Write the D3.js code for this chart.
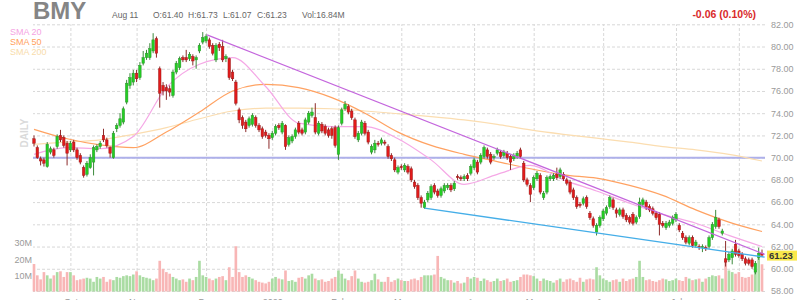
<!DOCTYPE html>
<html>
<head>
<meta charset="utf-8">
<script src="https://cdn.jsdelivr.net/npm/d3@7"></script>
<style>
  body { margin: 0; background: #fff; }
  svg { display: block; font-family: Arial, "Liberation Sans", sans-serif; }
</style>
</head>
<body>
<div id="chart"></div>
<script>
// daily candles, Sep 2019 - Aug 11 2020
var opens = [
  71.7, 70.9, 69.9, 69.8, 69.2, 70.5, 70.7, 71.0, 72.0, 71.8,
  71.3, 70.7, 71.4, 70.7, 70.2, 69.1, 68.5, 69.1, 69.6, 70.7,
  71.0, 72.0, 71.6, 70.9, 70.0, 72.6, 72.9, 73.2, 75.0, 76.5,
  76.8, 77.6, 77.2, 78.5, 79.0, 79.0, 79.6, 80.7, 78.0, 76.5,
  76.3, 76.2, 75.6, 77.7, 78.1, 79.0, 79.0, 78.9, 79.1, 78.8,
  79.6, 80.4, 80.5, 80.6, 80.1, 78.8, 80.2, 80.0, 78.9, 78.9,
  77.7, 76.8, 74.3, 73.6, 73.2, 72.9, 73.0, 73.6, 72.9, 72.6,
  72.3, 72.0, 71.8, 72.2, 72.9, 72.3, 72.9, 71.2, 71.5, 71.9,
  73.1, 72.5, 72.3, 73.2, 73.8, 73.6, 72.2, 73.0, 72.8, 72.5,
  72.6, 72.7, 70.3, 73.1, 74.4, 74.6, 74.2, 73.4, 71.6, 72.2,
  73.1, 72.3, 70.5, 70.7, 71.3, 71.3, 71.4, 71.0, 70.2, 69.8,
  68.7, 69.2, 68.9, 69.2, 69.0, 67.8, 67.5, 66.4, 65.5, 66.2,
  66.4, 67.5, 67.0, 66.6, 67.0, 67.3, 67.5, 67.2, 68.3, 68.2,
  68.1, 68.4, 68.6, 69.1, 69.6, 69.6, 70.1, 70.7, 70.3, 70.0,
  70.4, 70.5, 70.2, 70.4, 70.1, 69.9, 70.1, 70.7, 69.5, 68.0,
  67.5, 67.3, 68.1, 68.4, 66.4, 66.9, 68.1, 68.1, 68.5, 68.3,
  68.5, 68.0, 67.8, 67.1, 66.4, 65.8, 65.9, 66.4, 65.0, 64.5,
  63.3, 63.9, 64.5, 65.0, 65.6, 66.2, 65.3, 64.9, 65.3, 64.8,
  64.6, 64.9, 64.2, 64.7, 65.8, 66.0, 65.6, 65.4, 65.0, 64.9,
  64.1, 63.7, 63.9, 64.1, 64.4, 63.9, 63.2, 62.8, 62.3, 62.8,
  62.1, 62.0, 61.9, 61.9, 62.0, 62.8, 63.8, 64.4, 63.2, 60.9,
  60.8, 61.0, 62.2, 61.6, 61.3, 60.9, 60.8, 60.8, 59.7, 61.0, 61.40
];
var closes = [
  71.3, 70.0, 69.7, 69.5, 71.2, 70.8, 70.2, 71.9, 71.6, 71.1,
  70.4, 71.3, 70.7, 70.0, 69.6, 68.4, 69.5, 70.0, 70.9, 71.0,
  71.3, 71.6, 71.1, 70.4, 72.2, 72.9, 73.5, 74.4, 76.7, 77.2,
  77.6, 77.1, 78.3, 79.0, 79.4, 79.8, 80.6, 79.4, 75.8, 76.0,
  76.0, 75.9, 77.7, 78.5, 78.9, 78.8, 78.8, 79.3, 78.7, 79.0,
  80.1, 80.8, 80.9, 80.0, 79.4, 80.1, 79.9, 78.8, 79.1, 77.2,
  77.1, 74.9, 73.4, 72.9, 72.6, 73.5, 73.8, 72.9, 72.5, 71.9,
  72.0, 71.7, 72.2, 72.8, 72.7, 73.1, 71.0, 71.8, 71.9, 72.5,
  72.3, 72.2, 73.4, 74.0, 74.1, 72.3, 73.1, 72.4, 72.2, 72.0,
  72.0, 71.1, 72.7, 74.3, 74.8, 74.1, 73.6, 71.9, 72.2, 73.2,
  72.2, 71.4, 71.0, 71.3, 71.2, 71.6, 71.3, 70.1, 69.9, 68.9,
  69.1, 69.1, 69.3, 68.7, 68.0, 67.4, 66.4, 65.9, 66.0, 66.8,
  67.4, 66.9, 66.6, 67.2, 67.5, 67.5, 67.1, 67.7, 68.2, 68.1,
  68.3, 68.1, 69.2, 69.8, 68.7, 70.2, 70.9, 70.1, 69.6, 70.1,
  70.7, 70.1, 70.5, 70.0, 69.6, 70.2, 70.4, 70.1, 68.0, 67.6,
  66.7, 68.2, 68.6, 66.9, 66.8, 68.2, 68.3, 68.4, 68.2, 68.9,
  68.1, 67.7, 66.9, 66.4, 65.6, 65.7, 66.3, 65.6, 64.6, 63.9,
  63.9, 64.6, 65.2, 65.5, 66.4, 65.5, 65.0, 65.3, 64.7, 64.4,
  64.2, 64.1, 64.6, 66.0, 66.2, 65.5, 65.3, 65.0, 64.6, 64.0,
  63.9, 64.1, 64.2, 64.6, 64.9, 63.5, 62.8, 62.4, 62.8, 62.1,
  62.4, 61.9, 62.0, 61.8, 62.8, 64.0, 64.6, 63.8, 63.4, 60.6,
  61.3, 61.6, 61.3, 61.2, 60.9, 60.5, 60.5, 60.2, 60.5, 61.4, 61.23
];
var highs = [
  72.0, 71.1, 70.1, 70.0, 71.4, 71.0, 70.9, 72.1, 72.5, 72.0,
  71.5, 71.5, 71.6, 70.9, 70.4, 69.3, 69.7, 70.3, 71.1, 71.2,
  71.5, 72.6, 71.8, 71.0, 72.4, 73.1, 74.0, 74.6, 77.0, 77.6,
  77.9, 77.9, 78.6, 79.6, 79.7, 80.3, 81.2, 80.9, 78.2, 76.8,
  76.6, 76.5, 77.9, 78.7, 79.1, 79.2, 79.7, 79.5, 79.3, 79.2,
  80.3, 81.3, 81.1, 80.8, 80.3, 80.3, 80.4, 80.6, 79.3, 79.0,
  77.9, 77.0, 74.5, 73.8, 73.4, 73.7, 74.0, 73.8, 73.1, 72.8,
  72.5, 72.2, 72.4, 73.0, 73.1, 73.3, 73.0, 72.0, 72.1, 72.7,
  73.3, 72.7, 73.6, 74.2, 74.5, 74.9, 73.3, 73.2, 73.0, 72.7,
  72.8, 72.9, 72.9, 74.5, 75.1, 74.8, 74.4, 73.6, 72.4, 73.4,
  73.3, 72.5, 71.2, 71.6, 71.5, 71.8, 71.6, 71.2, 70.4, 70.0,
  69.3, 69.4, 69.5, 69.4, 69.2, 68.0, 67.7, 66.6, 66.2, 67.0,
  67.6, 67.7, 67.2, 67.4, 67.7, 67.7, 67.7, 67.9, 68.5, 68.4,
  68.5, 68.6, 69.4, 70.0, 69.8, 70.4, 71.1, 70.9, 70.5, 70.3,
  70.9, 70.7, 70.7, 70.6, 70.3, 70.4, 70.6, 70.9, 69.7, 68.2,
  67.7, 68.4, 68.8, 68.6, 67.0, 68.4, 68.5, 68.6, 69.1, 69.1,
  68.7, 68.2, 68.0, 67.3, 66.6, 66.0, 66.5, 66.6, 65.2, 64.7,
  64.1, 64.8, 65.4, 65.7, 66.6, 66.4, 65.5, 65.5, 65.5, 65.0,
  64.8, 65.1, 64.8, 66.4, 66.4, 66.2, 65.8, 65.6, 65.2, 65.1,
  64.3, 64.3, 64.4, 64.8, 65.1, 64.1, 63.4, 63.0, 63.0, 63.0,
  62.6, 62.2, 62.2, 62.1, 63.0, 64.2, 65.3, 64.6, 63.6, 62.5,
  61.5, 61.8, 62.6, 61.8, 61.5, 61.1, 61.0, 61.0, 60.7, 61.9, 61.73
];
var lows = [
  71.0, 69.9, 69.3, 69.2, 69.1, 70.3, 70.0, 70.8, 71.4, 70.9,
  69.3, 70.5, 70.5, 69.8, 69.4, 68.2, 68.3, 69.0, 68.4, 70.5,
  70.8, 71.4, 70.9, 70.0, 69.9, 72.3, 72.7, 73.0, 74.8, 76.2,
  76.5, 76.8, 77.0, 78.3, 78.8, 78.8, 79.4, 79.0, 74.5, 75.6,
  75.2, 75.5, 75.4, 77.5, 77.9, 78.6, 78.6, 78.7, 78.3, 78.0,
  79.4, 80.2, 80.3, 79.8, 79.2, 78.6, 79.6, 78.6, 78.6, 77.0,
  76.9, 74.7, 73.1, 72.6, 72.3, 72.7, 72.8, 72.7, 72.3, 71.7,
  71.8, 70.8, 71.6, 72.0, 72.5, 72.1, 70.7, 71.0, 71.3, 71.7,
  72.1, 72.0, 72.1, 73.0, 73.6, 72.1, 72.0, 72.2, 72.0, 71.8,
  71.7, 70.9, 69.8, 72.9, 74.2, 73.9, 73.4, 71.7, 71.4, 72.0,
  72.0, 71.2, 70.3, 70.4, 71.0, 71.1, 71.1, 69.9, 69.7, 68.7,
  68.5, 68.9, 68.7, 68.5, 67.8, 67.2, 66.2, 65.5, 65.4, 66.0,
  66.2, 66.7, 66.4, 66.4, 66.8, 67.1, 66.9, 67.0, 68.0, 67.9,
  67.9, 67.9, 68.4, 68.9, 68.5, 69.4, 69.9, 69.9, 69.4, 69.8,
  70.2, 69.9, 70.0, 69.8, 68.9, 69.7, 69.9, 69.9, 67.8, 67.4,
  66.0, 67.1, 67.9, 66.7, 66.2, 66.7, 67.9, 67.9, 68.0, 68.1,
  67.9, 67.5, 66.7, 66.2, 65.4, 65.5, 65.7, 65.4, 64.4, 63.7,
  63.0, 63.7, 64.3, 64.8, 65.4, 65.3, 64.6, 64.7, 64.5, 64.2,
  64.0, 63.9, 64.0, 64.5, 65.6, 65.3, 65.1, 64.8, 64.4, 63.0,
  63.7, 63.5, 63.7, 63.9, 64.2, 63.3, 62.6, 62.2, 62.1, 61.9,
  61.9, 61.7, 61.5, 61.6, 61.8, 62.6, 63.6, 63.6, 63.0, 60.2,
  60.6, 60.4, 61.1, 61.0, 60.7, 60.3, 60.3, 60.0, 59.5, 60.8, 61.07
];
// volume in millions
var volumes = [
  17, 10, 7.5, 12, 10, 8, 10, 12, 12.5, 9,
  12, 12, 10, 7, 7.5, 8, 8.5, 8, 6, 9,
  8, 9, 6, 7.5, 7, 9, 8.5, 9.5, 10, 9.5,
  10.5, 12.5, 10, 9, 8.5, 8, 7, 8, 19, 14,
  12, 11, 9, 8, 7, 7.5, 6, 8, 7, 9,
  19, 10, 9, 8, 7, 8, 9, 9.5, 7, 15,
  9, 28, 12, 9, 10, 9, 8, 7, 6, 5.5,
  5, 6, 8, 9, 8, 7.5, 13, 6.5, 7, 6,
  8.5, 9, 8, 10, 11, 8, 7, 7.5, 6, 6.5,
  8, 9, 13, 11, 8, 7, 9.5, 13, 8, 6,
  5.5, 6, 7, 11, 7.5, 6, 6, 9, 6, 7,
  8, 7, 6.5, 6.5, 7.5, 8, 7, 9, 10, 10,
  10, 10.5, 22, 9, 8, 7, 7, 5.5, 6.5, 5,
  5.5, 9, 8, 9, 8.5, 6.5, 8, 7, 6, 6.5,
  8, 6.5, 7, 8, 6, 6.5, 7, 9, 10.5, 10.5,
  10, 9.5, 8, 6.5, 8, 7, 6.5, 5.5, 7, 8,
  6, 7.5, 8, 7, 6, 8.5, 6, 7.5, 8, 7.5,
  15, 10, 8, 7, 6, 7, 7.5, 6, 8, 6.5,
  7.5, 8, 9, 19, 9, 7, 7.5, 6.5, 6, 7,
  8, 7.5, 6.5, 7, 8, 7, 6.5, 9, 8, 7,
  7.5, 8, 6, 8, 9, 10, 9.5, 10, 8, 19,
  13, 12, 11, 12, 9, 8.5, 9, 10.5, 13, 22, 16.84
];

// moving averages sampled every 10 bars
var smaIdx = [0, 10, 20, 30, 40, 50, 60, 70, 80, 90, 100, 110, 120, 130, 140, 150, 160, 170, 180, 190, 200, 210, 220];
var sma20 = [70.3, 70.9, 70.8, 71.9, 76.3, 78.4, 79.0, 76.4, 73.1, 72.8, 72.8, 71.7, 69.8, 67.6, 68.5, 69.3, 68.0, 67.0, 65.9, 64.9, 64.1, 63.0, 62.0];
var sma50 = [72.55, 71.7, 71.15, 70.9, 72.3, 74.1, 76.0, 76.6, 76.3, 75.4, 74.0, 72.3, 71.1, 70.3, 69.65, 69.0, 68.45, 68.15, 67.5, 66.6, 65.3, 64.2, 63.35];
var sma200 = [71.2, 71.4, 71.6, 72.1, 72.7, 73.5, 74.2, 74.45, 74.45, 74.4, 74.2, 73.95, 73.7, 73.4, 73.0, 72.5, 72.1, 71.75, 71.4, 71.0, 70.7, 70.3, 69.7];

// trend lines drawn on the chart: [bar index, price]
var resistLine = [[52.3, 81.05], [220.8, 61.3]];
var supportLine = [[118, 65.45], [220.8, 61.05]];
var levelLine = 70;

var monthLabels = ["Oct", "Nov", "Dec", "2020", "Feb", "Mar", "Apr", "May", "Jun", "Jul", "Aug"];
var monthIdx = [11, 31, 52, 72, 92, 111, 133, 151, 172, 194, 213];
var priceTicks = [58, 60, 62, 64, 66, 68, 70, 72, 74, 76, 78, 80, 82];
var volTicks = [10, 20, 30];

var svgWidth = 800;
var svgHeight = 300;
var plotLeft = 33, plotRight = 765, plotTop = 24.3, plotBottom = 291;

var svg = d3.select("#chart").append("svg")
  .attr("width", svgWidth)
  .attr("height", svgHeight);

var n = closes.length;
var x = d3.scaleLinear().domain([0, n - 1]).range([34, 762]);
var step = (762 - 34) / (n - 1);
var y = d3.scaleLinear().domain([58, 82]).range([plotBottom, plotTop]);
var yVol = d3.scaleLinear().domain([0, 30]).range([291.5, 243]);

// price grid + right labels
var yAxis = svg.append("g")
  .attr("transform", `translate(${plotRight},0)`)
  .call(d3.axisRight(y).tickValues(priceTicks).tickFormat(d3.format(".2f"))
    .tickSize(-(plotRight - plotLeft)).tickPadding(6));
yAxis.select(".domain").remove();
yAxis.selectAll("line").attr("stroke", "#d8d8d8").attr("stroke-dasharray", "3,2");
yAxis.selectAll("text").attr("fill", "#9a9a9a").style("font-size", "9px")
  .style("font-family", "Arial, 'Liberation Sans', sans-serif");

// month grid + bottom labels (mostly below the window, as in the original)
var xAxis = svg.append("g")
  .attr("transform", `translate(0,${plotBottom})`)
  .call(d3.axisBottom(x).tickValues(monthIdx).tickFormat((d, i) => monthLabels[i])
    .tickSize(-(plotBottom - plotTop)).tickPadding(8));
xAxis.select(".domain").remove();
xAxis.selectAll("line").attr("stroke", "#d8d8d8").attr("stroke-dasharray", "3,2");
xAxis.selectAll("text").attr("fill", "#9a9a9a").style("font-size", "9px")
  .style("font-family", "Arial, 'Liberation Sans', sans-serif");

// volume labels
var vAxis = svg.append("g")
  .attr("transform", `translate(${plotLeft},0)`)
  .call(d3.axisLeft(yVol).tickValues(volTicks).tickFormat(d => d + "M").tickSize(0).tickPadding(1));
vAxis.select(".domain").remove();
vAxis.selectAll("text").attr("fill", "#9a9a9a").style("font-size", "9px")
  .style("font-family", "Arial, 'Liberation Sans', sans-serif");

// volume bars
svg.append("g").selectAll("rect")
  .data(volumes)
  .enter()
  .append("rect")
  .attr("x", (d, i) => x(i) - step * 0.4)
  .attr("width", step * 0.8)
  .attr("y", d => yVol(d))
  .attr("height", d => yVol(0) - yVol(d))
  .attr("fill", (d, i) => closes[i] >= opens[i] ? "#aadca3" : "#f8b6b6");

// horizontal level
svg.append("line")
  .attr("x1", plotLeft).attr("x2", plotRight)
  .attr("y1", y(levelLine)).attr("y2", y(levelLine))
  .attr("stroke", "#aeb0ea").attr("stroke-width", 2);

// moving averages
var smaLine = d3.line().curve(d3.curveMonotoneX);
[[sma200, "#fbddb0"], [sma50, "#ffa262"], [sma20, "#f5a8e6"]].forEach(function (s) {
  svg.append("path")
    .attr("d", smaLine(smaIdx.map((d, i) => [x(d), y(s[0][i])])))
    .attr("fill", "none")
    .attr("stroke", s[1])
    .attr("stroke-width", 1.2);
});

// candles
var candles = svg.append("g").selectAll("g")
  .data(closes)
  .enter()
  .append("g");

candles.append("line")
  .attr("x1", (d, i) => x(i)).attr("x2", (d, i) => x(i))
  .attr("y1", (d, i) => y(highs[i])).attr("y2", (d, i) => y(lows[i]))
  .attr("stroke", (d, i) => d >= opens[i] ? "#3c8a3c" : "#8c2a2a")
  .attr("stroke-width", 1);

candles.append("rect")
  .attr("x", (d, i) => x(i) - step * 0.38)
  .attr("width", step * 0.76)
  .attr("y", (d, i) => y(Math.max(d, opens[i])))
  .attr("height", (d, i) => Math.max(1, Math.abs(y(d) - y(opens[i]))))
  .attr("fill", (d, i) => d >= opens[i] ? "#22cf22" : "#e31a1a")
  .attr("stroke", (d, i) => d >= opens[i] ? "#2f8f2f" : "#9a1c1c")
  .attr("stroke-width", 0.5);

// trend lines
var tl = d3.line().x(d => x(d[0])).y(d => y(d[1]));
svg.append("path").attr("d", tl(resistLine))
  .attr("fill", "none").attr("stroke", "#c466dd").attr("stroke-width", 1.3);
svg.append("path").attr("d", tl(supportLine))
  .attr("fill", "none").attr("stroke", "#45aee8").attr("stroke-width", 1.3);

// last price tag
var last = closes[n - 1];
svg.append("rect")
  .attr("x", 767).attr("y", y(last) - 4.5)
  .attr("width", 30).attr("height", 10)
  .attr("fill", "#f9e84b");
svg.append("text")
  .attr("x", 769).attr("y", y(last) + 3.8)
  .attr("font-size", "9.5px").attr("font-weight", "bold").attr("fill", "#333")
  .text(d3.format(".2f")(last));

// header
svg.append("text")
  .attr("x", 33).attr("y", 19)
  .attr("font-size", "24px").attr("font-weight", "bold").attr("fill", "#858585")
  .text("BMY");

var info = [["Aug 11", 112], ["O:61.40", 153], ["H:61.73", 188], ["L:61.07", 223], ["C:61.23", 257], ["Vol:16.84M", 302]];
svg.append("g").selectAll("text")
  .data(info)
  .enter()
  .append("text")
  .attr("x", d => d[1]).attr("y", 18)
  .attr("font-size", "8.5px").attr("fill", "#666")
  .text(d => d[0]);

svg.append("text")
  .attr("x", 756).attr("y", 18).attr("text-anchor", "end")
  .attr("font-size", "10.5px").attr("font-weight", "bold").attr("fill", "#d92b2b")
  .text("-0.06 (0.10%)");

// legend
var legend = [["SMA 20", "#f5a3e3"], ["SMA 50", "#ff9f5c"], ["SMA 200", "#f8dcab"]];
svg.append("g").selectAll("text")
  .data(legend)
  .enter()
  .append("text")
  .attr("x", 10).attr("y", (d, i) => 35 + i * 10)
  .attr("font-size", "9px").attr("fill", d => d[1])
  .text(d => d[0]);

svg.append("text")
  .attr("transform", "translate(28,133) rotate(-90)")
  .attr("text-anchor", "middle")
  .attr("font-size", "10px").attr("font-weight", "bold").attr("fill", "#dadada")
  .text("DAILY");
</script>
</body>
</html>
